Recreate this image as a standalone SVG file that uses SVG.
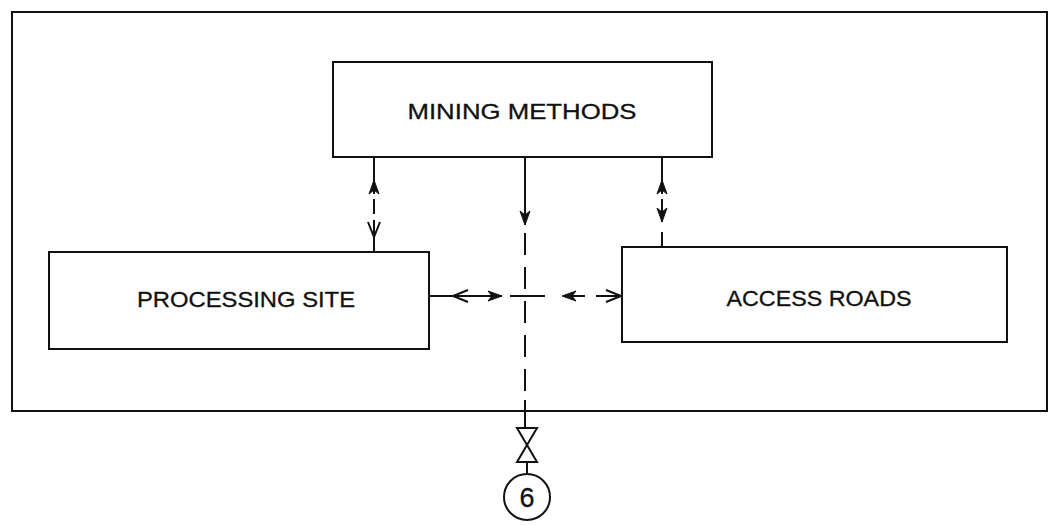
<svg xmlns="http://www.w3.org/2000/svg" width="1050" height="525" viewBox="0 0 1050 525">
<style>
.box{fill:#fff;stroke:#111;stroke-width:2}
.lbl{font-family:"Liberation Sans","DejaVu Sans",sans-serif;font-size:22px;fill:#111;text-anchor:middle;stroke:#111;stroke-width:0.3}
.ln{stroke:#111;stroke-width:2;fill:none}
.dash{stroke:#111;stroke-width:2;fill:none;stroke-dasharray:22 12}
.fa{fill:#111;stroke:#111;stroke-width:1}
.oa{fill:none;stroke:#111;stroke-width:2}
</style>
<defs>
<path id="fa" class="fa" d="M0,0 L-5,14 L0,10 L5,14 Z"/>
<path id="oa" class="oa" d="M-6,15 L0,0 L6,15"/>
</defs>
<rect width="1050" height="525" fill="#fff"/>
<g id="frame"><rect x="12" y="12" width="1035" height="399" class="box" fill="none"/></g>
<g id="connectors">
<line class="ln" x1="374" y1="157" x2="374" y2="194"/>
<use href="#fa" x="374" y="180"/>
<line class="ln" x1="374" y1="199" x2="374" y2="214"/>
<line class="ln" x1="374" y1="220" x2="374" y2="252"/>
<use href="#oa" transform="translate(374,237) rotate(180)"/>
<line class="ln" x1="525" y1="157" x2="525" y2="225"/>
<use href="#fa" transform="translate(525,225) rotate(180)"/>
<line class="dash" x1="525" y1="233" x2="525" y2="405"/>
<line class="ln" x1="525" y1="400" x2="525" y2="428"/>
<line class="ln" x1="662" y1="157" x2="662" y2="194"/>
<use href="#fa" x="662" y="180"/>
<line class="ln" x1="662" y1="199" x2="662" y2="222"/>
<use href="#fa" transform="translate(662,222) rotate(180)"/>
<line class="ln" x1="662" y1="232" x2="662" y2="247"/>
<line class="ln" x1="429" y1="296" x2="502" y2="296"/>
<use href="#oa" transform="translate(453,296) rotate(-90)"/>
<use href="#fa" transform="translate(502,296) rotate(90)"/>
<line class="ln" x1="510" y1="296" x2="545" y2="296"/>
<use href="#fa" transform="translate(562,296) rotate(-90)"/>
<line class="ln" x1="572" y1="296" x2="585" y2="296"/>
<line class="ln" x1="596" y1="296" x2="622" y2="296"/>
<use href="#oa" transform="translate(621,296) rotate(90)"/>
<path class="ln" d="M517,428 L537,428 L517,462 L537,462 Z"/>
<line class="ln" x1="527" y1="462" x2="527" y2="474"/>
</g>
<g id="mining"><rect class="box" x="333" y="62" width="379" height="95"/><text class="lbl" x="522" y="119" textLength="229" lengthAdjust="spacingAndGlyphs">MINING  METHODS</text></g>
<g id="processing"><rect class="box" x="49" y="252" width="380" height="97"/><text class="lbl" x="246" y="307" textLength="218" lengthAdjust="spacingAndGlyphs">PROCESSING  SITE</text></g>
<g id="access"><rect class="box" x="622" y="247" width="385" height="95"/><text class="lbl" x="819" y="306" textLength="185" lengthAdjust="spacingAndGlyphs">ACCESS  ROADS</text></g>
<g id="ref6"><circle class="box" cx="527" cy="497" r="23"/><text class="lbl" x="527" y="507" style="font-size:27px">6</text></g>
</svg>
